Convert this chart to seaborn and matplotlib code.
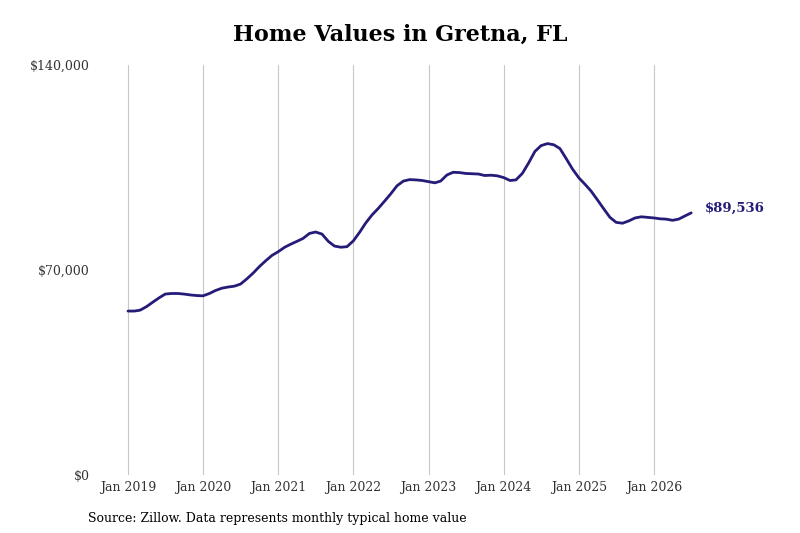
import numpy as np
import pandas as pd
import matplotlib
matplotlib.use('Agg')
import matplotlib.pyplot as plt
import seaborn as sns

# monthly typical home value, Jan 2019 .. Jul 2026 (thousands)
VALUES_K = [56.0, 56.0, 56.3, 57.5, 59.0, 60.5, 61.8, 62.0, 62.0, 61.8, 61.5, 61.3,
            61.2, 62.0, 63.0, 63.8, 64.2, 64.5, 65.2, 67.0, 69.0, 71.2, 73.2, 75.0,
            76.3, 77.8, 78.8, 79.8, 80.8, 82.5, 83.0, 82.3, 79.8, 78.2, 77.8, 78.0,
            80.0, 83.0, 86.0, 88.8, 91.0, 93.5, 96.0, 98.8, 100.4, 100.9, 100.8, 100.6,
            100.2, 99.8, 100.4, 102.5, 103.4, 103.3, 103.0, 102.9, 102.8, 102.3, 102.4, 102.2,
            101.6, 100.6, 100.8, 103.0, 106.5, 110.5, 112.5, 113.2, 112.8, 111.5, 108.0, 104.5,
            101.5, 99.2, 97.0, 94.0, 91.0, 88.0, 86.3, 86.0, 86.8, 87.8, 88.2, 88.0,
            87.8, 87.5, 87.4, 87.0, 87.4, 88.5, 89.536]
DATES = pd.date_range("2019-01-01", periods=len(VALUES_K), freq="MS")
TICK_YEARS = list(range(2019, 2027))
LINE_COLOR = "#241c78"

df = pd.DataFrame({"date": DATES, "value": np.array(VALUES_K) * 1000})

sns.set_style("white")
plt.rcParams['font.family'] = ['DejaVu Serif']

fig = plt.figure(figsize=(8, 5.33), dpi=100)
ax = fig.add_axes([0.14375, 0.1088, 0.75625, 0.769])
sns.lineplot(data=df, x="date", y="value", color=LINE_COLOR, linewidth=2, ax=ax)

start = pd.Timestamp("2019-01-01")
ticks = [pd.Timestamp(f"{y}-01-01") for y in TICK_YEARS]
ax.set_xticks(ticks)
ax.set_xticklabels([f"Jan {y}" for y in TICK_YEARS], fontsize=9, color="#333333")
ax.set_xlim(start - pd.Timedelta(days=63), start + pd.Timedelta(days=2878))
ax.set_ylim(0, 140000)
ax.set_yticks([0, 70000, 140000])
ax.set_yticklabels(["$0", "$70,000", "$140,000"], fontsize=9, color="#333333")
ax.grid(axis="x", color="#c8c8c8", linewidth=0.8)
for s in ax.spines.values():
    s.set_visible(False)
ax.tick_params(axis="y", length=0, pad=18)
ax.tick_params(axis="x", length=0, pad=4)
ax.set_xlabel("")
ax.set_ylabel("")

last = df.iloc[-1]
ax.annotate(f"${last['value']:,.0f}", (last["date"], last["value"]), xytext=(10, 3),
            textcoords="offset points", va="center", fontsize=9.5, fontweight="bold",
            color=LINE_COLOR)

fig.suptitle("Home Values in Gretna, FL", fontsize=16, fontweight="bold", y=0.955,
             color="black")
fig.text(0.11, 0.02, "Source: Zillow. Data represents monthly typical home value", fontsize=9,
         color="black")

fig.savefig("out.png", dpi=100)
